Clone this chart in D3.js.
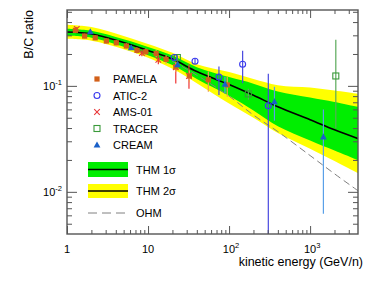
<!DOCTYPE html>
<html><head><meta charset="utf-8">
<script src="https://cdn.jsdelivr.net/npm/d3@7"></script>
<style>body{margin:0;background:#fff}svg{display:block;font-family:"Liberation Sans",Arial,sans-serif}</style>
</head><body><svg id="c" width="382" height="284"></svg>
<script>
// ---- model curves (B/C ratio vs kinetic energy GeV/n) ----
const thmEnergy = [1, 2, 5, 10, 20, 40, 100, 200, 400, 1000, 2000, 4000];
const thmCenter = [0.322, 0.309, 0.257, 0.216, 0.179, 0.1365, 0.103, 0.0815, 0.0635, 0.0479, 0.0385, 0.0316];
const thm1Lo = [0.297, 0.285, 0.234, 0.195, 0.157, 0.116, 0.0805, 0.0585, 0.0415, 0.0305, 0.0245, 0.0197];
const thm1Hi = [0.346, 0.331, 0.275, 0.233, 0.193, 0.150, 0.121, 0.105, 0.0885, 0.0775, 0.0705, 0.0631];
const thm2Lo = [0.278, 0.267, 0.222, 0.184, 0.145, 0.106, 0.0680, 0.0500, 0.0360, 0.0255, 0.0195, 0.0148];
const thm2Hi = [0.378, 0.359, 0.296, 0.248, 0.205, 0.160, 0.135, 0.116, 0.1015, 0.0965, 0.0905, 0.0841];
const ohmValues = [0.322, 0.309, 0.256, 0.212, 0.170, 0.126, 0.080, 0.053, 0.037, 0.022, 0.0148, 0.0101];

// ---- measurements ----
const pamelaE  = [1.27, 1.65, 2.23, 3.06, 4.06, 5.4, 7.3, 9.4, 12.6, 16.7, 22, 32.4, 55.5, 95];
const pamelaV  = [0.334, 0.295, 0.284, 0.265, 0.255, 0.238, 0.216, 0.210, 0.202, 0.178, 0.151, 0.124, 0.114, 0.102];
const pamelaLo = [0.315, 0.280, 0.269, 0.251, 0.241, 0.224, 0.202, 0.195, 0.186, 0.162, 0.135, 0.108, 0.088, 0.079];
const pamelaHi = [0.353, 0.310, 0.299, 0.279, 0.269, 0.252, 0.230, 0.225, 0.218, 0.194, 0.167, 0.140, 0.137, 0.122];

const atic2E  = [21, 38, 75, 147, 305];
const atic2V  = [0.185, 0.171, 0.121, 0.160, 0.065];
const atic2Lo = [0.176, 0.161, 0.082, 0.106, 0.001];
const atic2Hi = [0.195, 0.182, 0.152, 0.214, 0.130];

const ams01E  = [1.32, 8.4, 13.4, 22, 32];
const ams01V  = [0.345, 0.204, 0.176, 0.150, 0.124];
const ams01Lo = [0.330, 0.190, 0.160, 0.105, 0.094];
const ams01Hi = [0.360, 0.218, 0.192, 0.170, 0.160];

const tracerE  = [23, 173, 2076];
const tracerV  = [0.185, 0.084, 0.124];
const tracerLo = [0.176, 0.074, 0.0398];
const tracerHi = [0.194, 0.094, 0.272];

const creamE  = [1.94, 6.2, 23.2, 89, 363, 1459];
const creamV  = [0.324, 0.229, 0.159, 0.104, 0.071, 0.033];
const creamLo = [0.310, 0.219, 0.148, 0.085, 0.047, 0.0062];
const creamHi = [0.338, 0.239, 0.170, 0.122, 0.098, 0.060];

// ---- ticks ----
const xMajor = [1, 10, 100, 1000];
const xMajorLabels = [["1", ""], ["10", ""], ["10", "2"], ["10", "3"]];
const xMinor = [2,3,4,5,6,7,8,9,20,30,40,50,60,70,80,90,200,300,400,500,600,700,800,900,2000,3000];
const yMajor = [0.1, 0.01];
const yMajorLabels = [["10", "-1"], ["10", "-2"]];
const yMinor = [0.005,0.006,0.007,0.008,0.009,0.02,0.03,0.04,0.05,0.06,0.07,0.08,0.09,0.2,0.3,0.4,0.5];

const L = 67, R = 358, T = 10, B = 234;
const svg = d3.select("#c");
const x = d3.scaleLog().domain([1, 3900]).range([L, R]);
const y = d3.scaleLog().domain([0.004, 0.52]).range([B, T]);

svg.append("defs").append("clipPath").attr("id", "pc")
  .append("rect").attr("x", L).attr("y", T).attr("width", R - L).attr("height", B - T);
const plot = svg.append("g").attr("clip-path", "url(#pc)");

const idx = d3.range(thmEnergy.length);
const crv = d3.curveCatmullRom.alpha(0.5);
const band = (lo, hi) => d3.area().curve(crv)
  .x(i => x(thmEnergy[i])).y0(i => y(lo[i])).y1(i => y(hi[i]));
const line = vals => d3.line().curve(crv)
  .x(i => x(thmEnergy[i])).y(i => y(vals[i]));

plot.append("path").attr("d", band(thm2Lo, thm2Hi)(idx)).attr("fill", "#ffff00");
plot.append("path").attr("d", band(thm1Lo, thm1Hi)(idx)).attr("fill", "#00ee00");
plot.append("path").attr("d", line(ohmValues)(idx)).attr("fill", "none")
  .attr("stroke", "#808080").attr("stroke-width", 1).attr("stroke-dasharray", "7,4");
plot.append("path").attr("d", line(thmCenter)(idx)).attr("fill", "none")
  .attr("stroke", "#000").attr("stroke-width", 1.6);

function marker(g, type, cx, cy, color) {
  if (type === "square") g.append("rect").attr("x", cx - 2.6).attr("y", cy - 2.6).attr("width", 5.2).attr("height", 5.2).attr("fill", color);
  else if (type === "circle") g.append("circle").attr("cx", cx).attr("cy", cy).attr("r", 3).attr("fill", "none").attr("stroke", color).attr("stroke-width", 1.1);
  else if (type === "cross") g.append("path").attr("d", `M${cx-2.8},${cy-2.8}L${cx+2.8},${cy+2.8}M${cx-2.8},${cy+2.8}L${cx+2.8},${cy-2.8}`).attr("stroke", color).attr("stroke-width", 1.1);
  else if (type === "osquare") g.append("rect").attr("x", cx - 3).attr("y", cy - 3).attr("width", 6).attr("height", 6).attr("fill", "none").attr("stroke", color).attr("stroke-width", 1.1);
  else if (type === "tri") g.append("path").attr("d", `M${cx},${cy-3.6}L${cx+3.4},${cy+2.6}L${cx-3.4},${cy+2.6}Z`).attr("fill", color);
}

const series = [
  {E: ams01E, V: ams01V, lo: ams01Lo, hi: ams01Hi, type: "cross", color: "#e8383a", bar: "#ee3333"},
  {E: pamelaE, V: pamelaV, lo: pamelaLo, hi: pamelaHi, type: "square", color: "#d2601a", bar: "#f0a050"},
  {E: tracerE, V: tracerV, lo: tracerLo, hi: tracerHi, type: "osquare", color: "#3a9a3a", bar: "#5aaa5a"},
  {E: creamE, V: creamV, lo: creamLo, hi: creamHi, type: "tri", color: "#1a60c8", bar: "#5aa0e8"},
  {E: atic2E, V: atic2V, lo: atic2Lo, hi: atic2Hi, type: "circle", color: "#3a3aee", bar: "#4848e0"}
];
series.forEach(s => {
  const g = plot.append("g");
  s.E.forEach((e, i) => {
    g.append("line").attr("x1", x(e)).attr("x2", x(e)).attr("y1", y(s.lo[i])).attr("y2", y(s.hi[i]))
      .attr("stroke", s.bar).attr("stroke-width", 1.2);
  });
});
series.forEach(s => {
  const g = plot.append("g");
  s.E.forEach((e, i) => marker(g, s.type, x(e), y(s.V[i]), s.color));
});

// ---- axes / frame ----
const axCol = "#555";
function styleAxis(g) { g.select(".domain").remove(); g.selectAll("line").attr("stroke", axCol).attr("stroke-width", 1); }
svg.append("g").attr("transform", `translate(0,${B})`).call(d3.axisBottom(x).tickValues(xMinor).tickSize(-4).tickFormat("")).call(styleAxis);
svg.append("g").attr("transform", `translate(0,${B})`).call(d3.axisBottom(x).tickValues(xMajor).tickSize(-8).tickFormat("")).call(styleAxis);
svg.append("g").attr("transform", `translate(0,${T})`).call(d3.axisTop(x).tickValues(xMinor).tickSize(-4).tickFormat("")).call(styleAxis);
svg.append("g").attr("transform", `translate(0,${T})`).call(d3.axisTop(x).tickValues(xMajor).tickSize(-8).tickFormat("")).call(styleAxis);
svg.append("g").attr("transform", `translate(${L},0)`).call(d3.axisLeft(y).tickValues(yMinor).tickSize(-5).tickFormat("")).call(styleAxis);
svg.append("g").attr("transform", `translate(${L},0)`).call(d3.axisLeft(y).tickValues(yMajor).tickSize(-10).tickFormat("")).call(styleAxis);
svg.append("g").attr("transform", `translate(${R},0)`).call(d3.axisRight(y).tickValues(yMinor).tickSize(-5).tickFormat("")).call(styleAxis);
svg.append("g").attr("transform", `translate(${R},0)`).call(d3.axisRight(y).tickValues(yMajor).tickSize(-10).tickFormat("")).call(styleAxis);
svg.append("rect").attr("x", L).attr("y", T).attr("width", R - L).attr("height", B - T)
  .attr("fill", "none").attr("stroke", axCol).attr("stroke-width", 1.4);

function supLabel(px, py, parts, anchor) {
  const t = svg.append("text").attr("x", px).attr("y", py).attr("text-anchor", anchor)
    .attr("font-size", 11).attr("fill", "#000");
  t.append("tspan").text(parts[0]);
  if (parts[1]) t.append("tspan").attr("dy", -5).attr("font-size", 7.5).text(parts[1]);
}
xMajor.forEach((v, i) => supLabel(x(v) + (xMajorLabels[i][1] ? 2 : 0), 253, xMajorLabels[i], "middle"));
yMajor.forEach((v, i) => supLabel(62, y(v) + 4, yMajorLabels[i], "end"));

svg.append("text").attr("transform", "translate(33,10) rotate(-90)").attr("text-anchor", "end")
  .attr("font-size", 12.5).text("B/C ratio");
svg.append("text").attr("x", 363).attr("y", 266).attr("text-anchor", "end")
  .attr("font-size", 12.5).text("kinetic energy (GeV/n)");

// ---- legend ----
const legendNames = ["PAMELA", "ATIC-2", "AMS-01", "TRACER", "CREAM"];
const legendOrder = [1, 4, 0, 2, 3];
const leg = svg.append("g");
legendNames.forEach((n, k) => {
  const s = series[legendOrder[k]];
  const cy = 79 + k * 16.5;
  marker(leg, s.type, 97, cy, s.color);
  leg.append("text").attr("x", 113).attr("y", cy + 4).attr("font-size", 11).text(n);
});
leg.append("rect").attr("x", 88).attr("y", 162).attr("width", 40).attr("height", 15).attr("fill", "#00ee00");
leg.append("line").attr("x1", 88).attr("x2", 128).attr("y1", 169.5).attr("y2", 169.5).attr("stroke", "#000").attr("stroke-width", 1.4);
leg.append("text").attr("x", 136).attr("y", 174).attr("font-size", 11).text("THM 1σ");
leg.append("rect").attr("x", 88).attr("y", 184).attr("width", 40).attr("height", 14).attr("fill", "#ffff00");
leg.append("line").attr("x1", 88).attr("x2", 128).attr("y1", 191).attr("y2", 191).attr("stroke", "#000").attr("stroke-width", 1.4);
leg.append("text").attr("x", 136).attr("y", 195).attr("font-size", 11).text("THM 2σ");
leg.append("line").attr("x1", 88).attr("x2", 128).attr("y1", 213).attr("y2", 213).attr("stroke", "#808080").attr("stroke-width", 1).attr("stroke-dasharray", "9,5");
leg.append("text").attr("x", 136).attr("y", 217).attr("font-size", 11).text("OHM");
</script></body></html>
